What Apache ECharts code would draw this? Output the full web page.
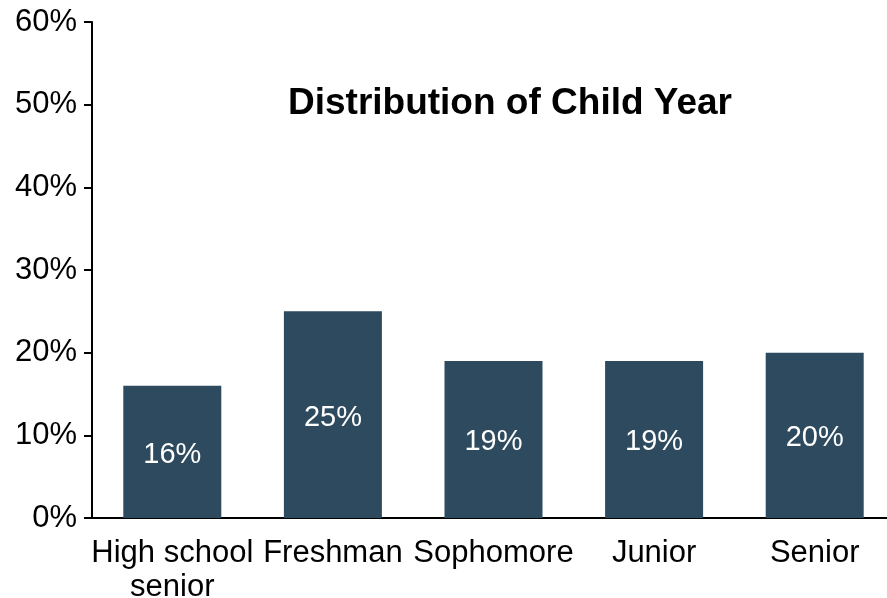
<!DOCTYPE html>
<html>
<head>
<meta charset="utf-8">
<script src="https://cdn.jsdelivr.net/npm/echarts@6/dist/echarts.min.js"></script>
<style>
  html, body { margin: 0; padding: 0; background: #fff; }
  #chart { width: 887px; height: 598px; }
</style>
</head>
<body>
<div id="chart"></div>
<script>
// data
const categories = ['High school\nsenior', 'Freshman', 'Sophomore', 'Junior', 'Senior']
const shares = [16, 25, 19, 19, 20]
const yTicks = [0, 10, 20, 30, 40, 50, 60]

const chart = echarts.init(document.getElementById('chart'))
const font = 'Liberation Sans, Arial, sans-serif'

const option = {
  animation: false,
  title: {
    text: 'Distribution of Child Year',
    left: 505,
    top: 80,
    textAlign: 'center',
    textStyle: { fontFamily: font, fontSize: 37, fontWeight: 'bold', color: '#000' }
  },
  grid: {
    left: 92, top: 22, bottom: 80, width: 803,
    containLabel: false, outerBoundsMode: 'none'
  },
  xAxis: {
    type: 'category',
    data: categories,
    axisLine: { show: true, lineStyle: { color: '#000', width: 2 } },
    axisTick: { show: false },
    axisLabel: {
      fontFamily: font, fontSize: 31, color: '#000', margin: 18,
      lineHeight: 34, interval: 0
    }
  },
  yAxis: {
    type: 'value',
    min: yTicks[0],
    max: yTicks[yTicks.length - 1],
    interval: 10,
    splitLine: { show: false },
    axisLine: { show: true, lineStyle: { color: '#000', width: 2 } },
    axisTick: { show: true, length: 8, lineStyle: { color: '#000', width: 2 } },
    axisLabel: {
      fontFamily: font, fontSize: 31, color: '#000', margin: 15,
      padding: [6, 0, 0, 0],
      formatter: v => v + '%'
    }
  },
  series: [
    {
      type: 'bar',
      data: shares,
      barWidth: 98,
      itemStyle: { color: '#2d4a5e' },
      label: {
        show: true,
        position: 'inside',
        offset: [0, 3],
        fontFamily: font,
        fontSize: 29,
        color: '#fff',
        formatter: p => p.value + '%'
      }
    }
  ]
}
chart.setOption(option)
</script>
</body>
</html>
